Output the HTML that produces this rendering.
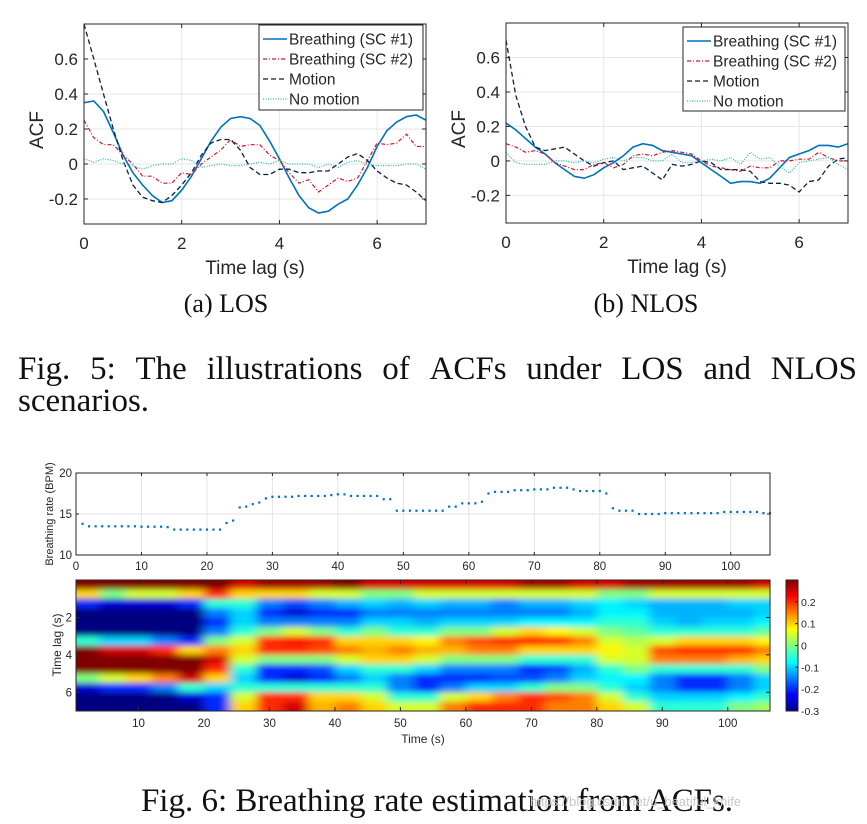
<!DOCTYPE html>
<html><head><meta charset="utf-8">
<style>
html,body{margin:0;padding:0;background:#fff;}
svg{display:block;}
.t{font-family:"Liberation Sans",sans-serif;fill:#262626;}
.s{font-family:"Liberation Serif",serif;fill:#111;}
</style></head>
<body>
<svg id="root" width="867" height="824" viewBox="0 0 867 824" xmlns="http://www.w3.org/2000/svg">
<defs>
<clipPath id="clipA"><rect x="84" y="24" width="342" height="200"/></clipPath>
<clipPath id="clipB"><rect x="506" y="23" width="342" height="200"/></clipPath>
<clipPath id="clipH"><rect x="76" y="580" width="694" height="131"/></clipPath>
<filter id="blur" x="-5%" y="-10%" width="110%" height="120%"><feGaussianBlur stdDeviation="5 3"/></filter>
<linearGradient id="jetGrad" x1="0" y1="1" x2="0" y2="0">
<stop offset="0" stop-color="#00008f"/><stop offset="0.125" stop-color="#0000ff"/><stop offset="0.375" stop-color="#00ffff"/><stop offset="0.625" stop-color="#ffff00"/><stop offset="0.875" stop-color="#ff0000"/><stop offset="1" stop-color="#800000"/>
</linearGradient>
</defs>
<g id="chartA"></g>
<g id="chartB"></g>
<text class="s" x="226" y="312" font-size="26" text-anchor="middle">(a) LOS</text>
<text class="s" x="646" y="312" font-size="26" text-anchor="middle">(b) NLOS</text>
<g id="fig5line1"></g>
<text class="s" x="18" y="411" font-size="33">scenarios.</text>
<g id="rate"></g>
<g id="heat"></g>
<text class="s" x="437" y="811" font-size="33" text-anchor="middle">Fig. 6: Breathing rate estimation from ACFs.</text>
<text x="530" y="806" font-size="13" fill="#c8c8c8" font-family="Liberation Sans,sans-serif">https://blog.csdn.net/u_beatiful_knife</text>
</svg>
<script>
// ---------- ACF line chart data ----------
const lagT = [0,0.2,0.4,0.6,0.8,1.0,1.2,1.4,1.6,1.8,2.0,2.2,2.4,2.6,2.8,3.0,3.2,3.4,3.6,3.8,4.0,4.2,4.4,4.6,4.8,5.0,5.2,5.4,5.6,5.8,6.0,6.2,6.4,6.6,6.8,7.0];
const losSC1 = [0.35,0.36,0.3,0.18,0.05,-0.05,-0.12,-0.18,-0.22,-0.21,-0.15,-0.07,0.03,0.13,0.21,0.26,0.27,0.26,0.22,0.13,0.03,-0.08,-0.18,-0.25,-0.28,-0.27,-0.23,-0.2,-0.12,-0.02,0.1,0.19,0.24,0.27,0.28,0.25];
const losSC2 = [0.25,0.15,0.11,0.11,0.05,0.0,-0.07,-0.07,-0.11,-0.11,-0.05,-0.06,0.0,0.04,0.08,0.14,0.1,0.11,0.11,0.05,0.02,-0.05,-0.11,-0.09,-0.16,-0.12,-0.08,-0.1,-0.08,0.02,0.12,0.11,0.12,0.17,0.1,0.1];
const losMotion = [0.8,0.6,0.4,0.2,0.02,-0.12,-0.19,-0.21,-0.22,-0.18,-0.12,-0.05,0.05,0.12,0.14,0.14,0.08,-0.02,-0.06,-0.06,-0.03,-0.03,-0.05,-0.05,-0.04,-0.04,0.0,0.04,0.06,0.02,-0.04,-0.08,-0.11,-0.12,-0.16,-0.21];
const losNoMotion = [0.03,0.01,0.03,0.02,0.0,-0.01,-0.03,-0.01,0.0,0.0,0.03,0.02,-0.02,-0.01,0.0,-0.01,-0.01,0.0,0.01,0.0,0.02,0.0,0.0,0.0,-0.02,0.0,-0.02,0.01,0.02,0.0,-0.01,-0.01,-0.01,0.0,0.0,-0.03];
const nlosSC1 = [0.22,0.18,0.13,0.08,0.04,-0.01,-0.05,-0.09,-0.1,-0.08,-0.04,-0.01,0.03,0.08,0.1,0.09,0.06,0.05,0.04,0.03,-0.01,-0.05,-0.09,-0.13,-0.12,-0.12,-0.13,-0.1,-0.04,0.02,0.04,0.06,0.09,0.09,0.08,0.1];
const nlosSC2 = [0.1,0.08,0.05,0.06,0.04,-0.01,-0.03,-0.05,-0.05,-0.02,-0.01,-0.04,-0.02,0.03,0.04,0.03,0.05,0.06,0.05,0.04,0.0,-0.03,-0.04,-0.05,-0.06,-0.03,-0.04,-0.04,0.0,0.0,0.01,0.01,0.05,0.02,0.0,0.0];
const nlosMotion = [0.7,0.38,0.2,0.08,0.06,0.07,0.08,0.04,0.0,-0.03,-0.01,0.0,-0.05,-0.04,-0.03,-0.07,-0.11,-0.02,-0.03,-0.02,0.0,-0.01,-0.05,-0.05,-0.05,-0.06,-0.12,-0.13,-0.13,-0.14,-0.18,-0.12,-0.11,-0.03,0.01,0.02];
const nlosNoMotion = [0.05,-0.01,-0.02,-0.02,-0.02,0.0,0.0,-0.01,0.0,-0.01,0.01,0.02,0.0,0.02,0.02,0.0,0.0,0.04,-0.01,-0.01,0.0,0.01,0.0,0.02,-0.02,0.05,0.01,0.02,-0.03,-0.07,-0.01,0.0,0.01,0.02,-0.02,-0.05];
const acfXTicks = [0,2,4,6];
const acfYTicks = [-0.2,0,0.2,0.4,0.6];
const acfYTickLabels = ["-0.2","0","0.2","0.4","0.6"];
const legendLabels = ["Breathing (SC #1)","Breathing (SC #2)","Motion","No motion"];

// ---------- Breathing rate data ----------
const rateT = [];
for (let i = 1; i <= 106; i++) rateT.push(i);
const rateBPM = [13.8,13.5,13.5,13.5,13.5,13.5,13.5,13.5,13.5,13.45,13.45,13.45,13.45,13.4,13.1,13.1,13.1,13.1,13.1,13.1,13.1,13.1,13.9,14.2,15.8,15.9,16.2,16.4,16.9,17.1,17.1,17.1,17.1,17.2,17.2,17.2,17.2,17.2,17.3,17.4,17.4,17.2,17.2,17.2,17.2,17.2,16.8,16.8,15.4,15.4,15.4,15.4,15.4,15.4,15.4,15.4,15.9,15.9,16.3,16.3,16.3,16.5,17.5,17.7,17.7,17.7,17.9,17.9,17.9,18.0,18.0,18.0,18.2,18.2,18.2,18.0,17.8,17.8,17.8,17.8,17.5,15.7,15.4,15.4,15.4,15.0,15.0,15.0,15.0,15.1,15.1,15.1,15.1,15.1,15.1,15.1,15.1,15.1,15.25,15.25,15.25,15.25,15.25,15.25,15.1,15.1];
const rateXTicks = [0,10,20,30,40,50,60,70,80,90,100];
const rateYTicks = [10,15,20];

// ---------- Heatmap data (rows: lag 0.25..6.75 step 0.5; columns: time centers) ----------
const heatTime = [2,6,10,14,18,22,26,30,34,38,42,46,50,54,58,62,66,70,74,78,82,86,90,94,98,102,106];
const heatLag = [0.25,0.75,1.25,1.75,2.25,2.75,3.25,3.75,4.25,4.75,5.25,5.75,6.25,6.75];
const heatVals = [
[0.3,0.1,-0.2,-0.3,-0.3,-0.3,-0.05,0.3,0.3,0.3,0.0,-0.25,-0.3,-0.3],
[0.3,0.0,-0.25,-0.3,-0.3,-0.3,-0.1,0.25,0.3,0.3,0.05,-0.2,-0.3,-0.3],
[0.3,0.05,-0.25,-0.3,-0.3,-0.3,-0.1,0.25,0.3,0.3,0.1,-0.2,-0.3,-0.3],
[0.3,0.05,-0.25,-0.3,-0.3,-0.3,-0.15,0.2,0.3,0.3,0.15,-0.15,-0.3,-0.3],
[0.3,0.1,-0.2,-0.3,-0.3,-0.3,-0.2,0.1,0.3,0.3,0.25,-0.05,-0.25,-0.3],
[0.3,0.2,-0.05,-0.15,-0.2,-0.15,0.0,0.15,0.25,0.2,0.1,-0.1,-0.2,-0.2],
[0.25,0.1,-0.05,-0.1,-0.1,-0.05,0.05,0.1,0.05,-0.05,-0.1,-0.05,0.05,0.1],
[0.28,0.1,-0.15,-0.2,-0.15,0.0,0.2,0.2,0.0,-0.2,-0.2,-0.05,0.2,0.2],
[0.28,0.1,-0.18,-0.25,-0.15,0.05,0.22,0.2,0.0,-0.2,-0.25,-0.05,0.2,0.25],
[0.28,0.05,-0.15,-0.2,-0.15,0.0,0.2,0.18,0.0,-0.18,-0.2,-0.05,0.1,0.12],
[0.3,0.05,-0.12,-0.2,-0.15,-0.05,0.1,0.15,0.05,-0.1,-0.15,-0.05,0.1,0.15],
[0.25,0.0,-0.1,-0.15,-0.1,0.0,0.1,0.12,0.1,-0.05,-0.1,-0.05,0.05,0.1],
[0.25,0.0,-0.12,-0.15,-0.1,-0.05,0.1,0.15,0.1,-0.05,-0.15,-0.15,-0.05,0.05],
[0.25,0.05,-0.1,-0.15,-0.12,-0.05,0.08,0.12,0.05,-0.1,-0.2,-0.2,-0.05,0.05],
[0.25,0.05,-0.12,-0.15,-0.1,0.0,0.15,0.12,0.0,-0.15,-0.2,-0.15,0.05,0.15],
[0.25,0.05,-0.12,-0.15,-0.1,0.0,0.18,0.15,0.0,-0.15,-0.2,-0.1,0.1,0.2],
[0.25,0.05,-0.15,-0.15,-0.1,0.05,0.2,0.15,0.0,-0.15,-0.18,-0.1,0.15,0.2],
[0.28,0.05,-0.12,-0.15,-0.08,0.1,0.22,0.1,-0.05,-0.2,-0.18,-0.05,0.2,0.2],
[0.28,0.05,-0.12,-0.15,-0.08,0.08,0.2,0.1,-0.05,-0.18,-0.15,0.0,0.18,0.15],
[0.25,0.05,-0.1,-0.12,-0.08,0.05,0.15,0.1,-0.05,-0.12,-0.1,0.0,0.15,0.15],
[0.25,0.0,-0.08,-0.08,-0.05,0.0,0.05,0.08,0.05,-0.05,-0.08,-0.05,0.05,0.1],
[0.28,0.0,-0.1,-0.08,-0.05,-0.02,0.03,0.05,0.05,0.0,-0.08,-0.1,-0.05,0.05],
[0.28,0.05,-0.12,-0.12,-0.1,-0.05,0.05,0.18,0.15,-0.05,-0.15,-0.15,-0.1,-0.05],
[0.28,0.05,-0.12,-0.12,-0.12,-0.05,0.1,0.2,0.15,-0.05,-0.2,-0.2,-0.1,-0.05],
[0.28,0.05,-0.12,-0.12,-0.1,-0.05,0.1,0.2,0.15,-0.05,-0.2,-0.2,-0.1,-0.05],
[0.28,0.05,-0.1,-0.12,-0.1,-0.05,0.1,0.2,0.12,-0.05,-0.15,-0.15,-0.08,0.0],
[0.25,0.05,-0.1,-0.1,-0.08,-0.02,0.08,0.15,0.1,0.0,-0.1,-0.1,-0.05,0.02]
];
const heatXTicks = [10,20,30,40,50,60,70,80,90,100];
const heatYTicks = [2,4,6];
const cbTicks = [-0.3,-0.2,-0.1,0,0.1,0.2];
const cbTickLabels = ["-0.3","-0.2","-0.1","0","0.1","0.2"];

const NS = "http://www.w3.org/2000/svg";
function mk(tag, attrs, parent) {
  const e = document.createElementNS(NS, tag);
  for (const k in attrs) e.setAttribute(k, attrs[k]);
  parent.appendChild(e);
  return e;
}

// justified caption line
(function(){
  const g = document.getElementById("fig5line1");
  const words = "Fig. 5: The illustrations of ACFs under LOS and NLOS".split(" ");
  const els = words.map(w => {
    const e = mk("text", {x: 0, y: 379, "font-size": 33, class: "s"}, g);
    e.textContent = w;
    return e;
  });
  const widths = els.map(e => e.getComputedTextLength());
  const total = widths.reduce((a, b) => a + b, 0);
  const gap = (857 - 18 - total) / (words.length - 1);
  let x = 18;
  els.forEach((e, i) => { e.setAttribute("x", x.toFixed(1)); x += widths[i] + gap; });
})();

function drawACF(g, box, ylim, series, legBox, clipId) {
  const xS = v => box.x + v / 7 * box.w;
  const yS = v => box.y + (ylim[1] - v) / (ylim[1] - ylim[0]) * box.h;
  acfXTicks.forEach(t => {
    const l = mk("line", {x1: xS(t), x2: xS(t), y1: box.y, y2: box.y + box.h, stroke: "#e6e6e6", "stroke-width": 1}, g);
    
    
  });
  acfYTicks.forEach(t => {
    const l = mk("line", {x1: box.x, x2: box.x + box.w, y1: yS(t), y2: yS(t), stroke: "#e6e6e6", "stroke-width": 1}, g);
    
    
  });
  const sg = mk("g", {"clip-path": "url(#" + clipId + ")"}, g);
  series.forEach(s => {
    const d = lagT.map((t, i) => (i ? "L" : "M") + xS(t).toFixed(1) + "," + yS(s.v[i]).toFixed(1)).join("");
    const p = mk("path", {d: d, fill: "none", stroke: s.c, "stroke-width": s.w, "stroke-dasharray": s.da}, sg);
    
    
  });
  const r = mk("rect", {x: box.x, y: box.y, width: box.w, height: box.h, fill: "none", stroke: "#262626", "stroke-width": 1}, g);
  
  
  acfXTicks.forEach(t => {
    mk("line", {x1: xS(t), x2: xS(t), y1: box.y + box.h, y2: box.y + box.h - 4, stroke: "#262626"}, g);
    mk("line", {x1: xS(t), x2: xS(t), y1: box.y, y2: box.y + 4, stroke: "#262626"}, g);
    const tx = mk("text", {x: xS(t), y: box.y + box.h + 25, "font-size": 17, "text-anchor": "middle", class: "t"}, g);
    tx.textContent = t;
    
    
  });
  acfYTicks.forEach((t, i) => {
    mk("line", {x1: box.x, x2: box.x + 4, y1: yS(t), y2: yS(t), stroke: "#262626"}, g);
    mk("line", {x1: box.x + box.w, x2: box.x + box.w - 4, y1: yS(t), y2: yS(t), stroke: "#262626"}, g);
    const tx = mk("text", {x: box.x - 6, y: yS(t) + 6, "font-size": 17, "text-anchor": "end", class: "t"}, g);
    tx.textContent = acfYTickLabels[i];
    
    
  });
  const xl = mk("text", {x: box.x + box.w / 2, y: box.y + box.h + 50, "font-size": 19, "text-anchor": "middle", class: "t"}, g);
  xl.textContent = "Time lag (s)";
  
  
  const yx = box.x - 41, yy = box.y + 106;
  const yl = mk("text", {x: yx, y: yy, "font-size": 19, "text-anchor": "middle", class: "t", transform: "rotate(-90 " + yx + " " + yy + ")"}, g);
  yl.textContent = "ACF";
  
  
  const lg = mk("g", {}, g);
  
  
  mk("rect", {x: legBox.x, y: legBox.y, width: legBox.w, height: legBox.h, fill: "#fff", stroke: "#262626", "stroke-width": 1}, lg);
  series.forEach((s, i) => {
    const ey = legBox.y + 14 + i * 20;
    const eg = mk("g", {}, lg);
    
    
    mk("line", {x1: legBox.x + 4, x2: legBox.x + 28, y1: ey, y2: ey, stroke: s.c, "stroke-width": s.w, "stroke-dasharray": s.da}, eg);
    const tx = mk("text", {x: legBox.x + 30, y: ey + 5.5, "font-size": 15.5, class: "t"}, eg);
    tx.textContent = legendLabels[i];
  });
}

const styles = [
  {c: "#0072BD", w: 1.6, da: "none"},
  {c: "#D9142B", w: 1.2, da: "4,2,1,2"},
  {c: "#0E1F4A", w: 1.3, da: "5,3"},
  {c: "#2DB7A8", w: 1.2, da: "1,1.5"}
];
const namesS = ["line-breathing-sc1","line-breathing-sc2","line-motion","line-no-motion"];
function mkSeries(arrs){ return arrs.map((v,i)=>Object.assign({v:v,name:namesS[i]},styles[i])); }

drawACF(document.getElementById("chartA"), {x:84,y:24,w:342,h:200}, [-0.343,0.8],
  mkSeries([losSC1,losSC2,losMotion,losNoMotion]), {x:259,y:25,w:164,h:85}, "clipA");
drawACF(document.getElementById("chartB"), {x:506,y:23,w:342,h:200}, [-0.36,0.8],
  mkSeries([nlosSC1,nlosSC2,nlosMotion,nlosNoMotion]), {x:683,y:27,w:162,h:84}, "clipB");

(function(){
  const g = document.getElementById("rate");
  const box = {x:76,y:473,w:694,h:82};
  const xS = v => box.x + v / 106 * box.w;
  const yS = v => box.y + (20 - v) / 10 * box.h;
  rateXTicks.forEach(t => {
    if (t > 0) {
      const l = mk("line", {x1: xS(t), x2: xS(t), y1: box.y, y2: box.y + box.h, stroke: "#e3e3e3"}, g);
      
      
    }
  });
  const gl = mk("line", {x1: box.x, x2: box.x + box.w, y1: yS(15), y2: yS(15), stroke: "#e3e3e3"}, g);
  
  
  rateT.forEach((t, i) => {
    const d = mk("rect", {x: xS(t) - 1.1, y: yS(rateBPM[i]) - 1.1, width: 2.2, height: 2.2, fill: "#0072BD"}, g);
    
    
  });
  const r = mk("rect", {x: box.x, y: box.y, width: box.w, height: box.h, fill: "none", stroke: "#262626"}, g);
  
  
  rateXTicks.forEach(t => {
    mk("line", {x1: xS(t), x2: xS(t), y1: box.y + box.h, y2: box.y + box.h - 3, stroke: "#262626"}, g);
    mk("line", {x1: xS(t), x2: xS(t), y1: box.y, y2: box.y + 3, stroke: "#262626"}, g);
    const tx = mk("text", {x: xS(t), y: box.y + box.h + 15, "font-size": 11.5, "text-anchor": "middle", class: "t"}, g);
    tx.textContent = t;
    
    
  });
  rateYTicks.forEach(t => {
    mk("line", {x1: box.x, x2: box.x + 3, y1: yS(t), y2: yS(t), stroke: "#262626"}, g);
    mk("line", {x1: box.x + box.w, x2: box.x + box.w - 3, y1: yS(t), y2: yS(t), stroke: "#262626"}, g);
    const tx = mk("text", {x: box.x - 4, y: yS(t) + 4, "font-size": 11.5, "text-anchor": "end", class: "t"}, g);
    tx.textContent = t;
    
    
  });
  const yl = mk("text", {x: 53, y: 514, "font-size": 11, "text-anchor": "middle", class: "t", transform: "rotate(-90 53 514)"}, g);
  yl.textContent = "Breathing rate (BPM)";
  
  
})();

function jet(v){
  let x = (v + 0.3) / 0.6; x = Math.max(0, Math.min(1, x));
  const f = t => Math.max(0, Math.min(1, 1.5 - Math.abs(4 * x - t)));
  const r = f(3), gg = f(2), b = f(1);
  return "rgb(" + Math.round(r*255) + "," + Math.round(gg*255) + "," + Math.round(b*255) + ")";
}
(function(){
  const g = document.getElementById("heat");
  const box = {x:76,y:580,w:694,h:131};
  const x0 = 0.45, x1 = 106.45;
  const xS = v => box.x + (v - x0) / (x1 - x0) * box.w;
  const yS = v => box.y + v / 7 * box.h;
  const cg = mk("g", {"clip-path": "url(#clipH)"}, g);
  const fg = mk("g", {filter: "url(#blur)"}, cg);
  const cw = 4, rh = 0.5;
  heatTime.forEach((t, ci) => {
    heatLag.forEach((l, ri) => {
      let xa = xS(t - cw/2), xb = xS(t + cw/2);
      let ya = yS(l - rh/2), yb = yS(l + rh/2);
      if (ci === 0) xa -= 20;
      if (ci === heatTime.length - 1) xb += 20;
      if (ri === 0) ya -= 15;
      if (ri === heatLag.length - 1) yb += 15;
      const c = mk("rect", {x: xa, y: ya, width: xb - xa + 0.5, height: yb - ya + 0.5, fill: jet(heatVals[ci][ri])}, fg);
      
      
    });
  });
  const r = mk("rect", {x: box.x, y: box.y, width: box.w, height: box.h, fill: "none", stroke: "#262626"}, g);
  
  
  heatXTicks.forEach(t => {
    mk("line", {x1: xS(t), x2: xS(t), y1: box.y + box.h, y2: box.y + box.h - 4, stroke: "#262626"}, g);
    mk("line", {x1: xS(t), x2: xS(t), y1: box.y, y2: box.y + 4, stroke: "#262626"}, g);
    const tx = mk("text", {x: xS(t), y: box.y + box.h + 16, "font-size": 11.5, "text-anchor": "middle", class: "t"}, g);
    tx.textContent = t;
    
    
  });
  heatYTicks.forEach(t => {
    mk("line", {x1: box.x, x2: box.x + 4, y1: yS(t), y2: yS(t), stroke: "#262626"}, g);
    mk("line", {x1: box.x + box.w, x2: box.x + box.w - 4, y1: yS(t), y2: yS(t), stroke: "#262626"}, g);
    const tx = mk("text", {x: box.x - 4, y: yS(t) + 4, "font-size": 11.5, "text-anchor": "end", class: "t"}, g);
    tx.textContent = t;
    
    
  });
  const xl = mk("text", {x: 423, y: 743, "font-size": 12, "text-anchor": "middle", class: "t"}, g);
  xl.textContent = "Time (s)";
  
  
  const yl = mk("text", {x: 61, y: 645, "font-size": 12, "text-anchor": "middle", class: "t", transform: "rotate(-90 61 645)"}, g);
  yl.textContent = "Time lag (s)";
  
  
  const cb = {x:786,y:580,w:12,h:131};
  const cS = v => cb.y + (0.3 - v) / 0.6 * cb.h;
  const cr = mk("rect", {x: cb.x, y: cb.y, width: cb.w, height: cb.h, fill: "url(#jetGrad)", stroke: "#262626"}, g);
  
  
  cbTicks.forEach((t, i) => {
    mk("line", {x1: cb.x + cb.w - 3, x2: cb.x + cb.w, y1: cS(t), y2: cS(t), stroke: "#262626"}, g);
    const tx = mk("text", {x: cb.x + cb.w + 3, y: cS(t) + 4, "font-size": 10.5, class: "t"}, g);
    tx.textContent = cbTickLabels[i];
    
    
  });
})();
</script>
</body></html>
